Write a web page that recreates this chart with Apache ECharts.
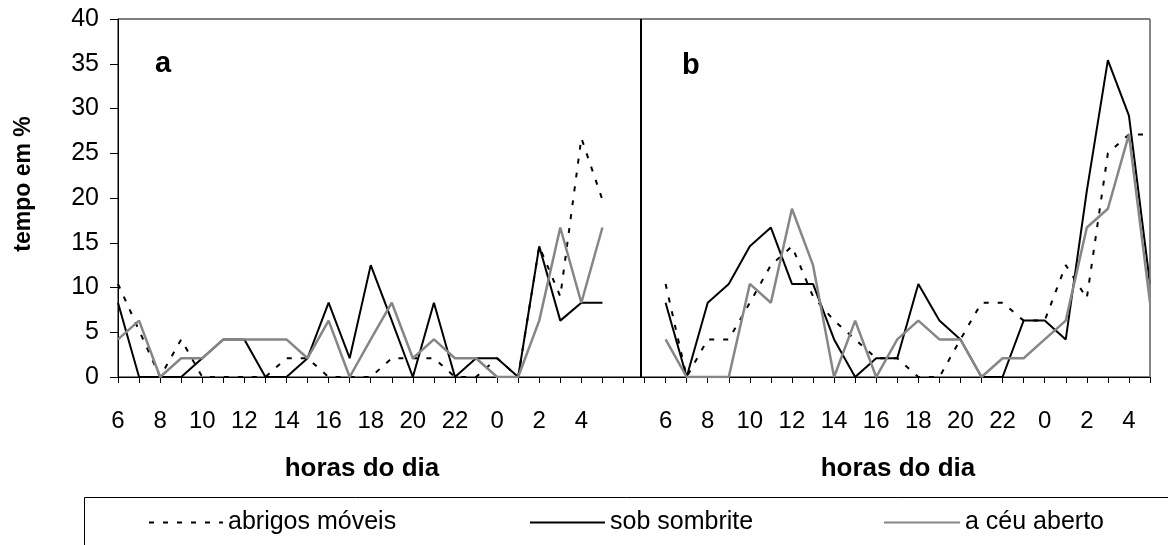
<!DOCTYPE html>
<html>
<head>
<meta charset="utf-8">
<title>tempo em % por hora do dia</title>
<script src="https://cdn.jsdelivr.net/npm/echarts@6/dist/echarts.min.js"></script>
<style>
  html, body { margin: 0; padding: 0; background: #fff; }
  #chart { width: 1168px; height: 545px; }
</style>
</head>
<body>
<div id="chart"></div>
<script>
// Hours of the day, starting at 6 h and wrapping past midnight
const hourLabels = ['6','7','8','9','10','11','12','13','14','15','16','17',
                    '18','19','20','21','22','23','0','1','2','3','4','5'];

// Panel a
const abrigosA   = [10.4, 5.2, 0, 4.2, 0, 0, 0, 0, 2.1, 2.1, 0, 0,
                    0, 2.1, 2.1, 2.1, 0, 0, 2.1, 0, 14.6, 9.0, 26.7, 19.8];
const sombriteA  = [8.3, 0, 0, 0, 2.1, 4.2, 4.2, 0, 0, 2.1, 8.3, 2.1,
                    12.5, 6.3, 0, 8.3, 0, 2.1, 2.1, 0, 14.6, 6.3, 8.3, 8.3];
const ceuA       = [4.2, 6.3, 0, 2.1, 2.1, 4.2, 4.2, 4.2, 4.2, 2.1, 6.3, 0,
                    4.2, 8.3, 2.1, 4.2, 2.1, 2.1, 0, 0, 6.3, 16.7, 8.3, 16.7];

// Panel b
const abrigosB   = [10.4, 0, 4.2, 4.2, 8.3, 12.5, 14.6, 9.0, 6.3, 4.2, 2.1, 2.1,
                    0, 0, 4.2, 8.3, 8.3, 6.3, 6.3, 12.5, 8.8, 25.0, 27.1, 27.1];
const sombriteB  = [8.3, 0, 8.3, 10.4, 14.6, 16.7, 10.4, 10.4, 4.2, 0, 2.1, 2.1,
                    10.4, 6.3, 4.2, 0, 0, 6.3, 6.3, 4.2, 20.8, 35.4, 29.2, 10.4];
const ceuB       = [4.2, 0, 0, 0, 10.4, 8.3, 18.8, 12.5, 0, 6.3, 0, 4.2,
                    6.3, 4.2, 4.2, 0, 2.1, 2.1, 4.2, 6.3, 16.7, 18.8, 27.1, 8.3];

const seriesNames = ['abrigos móveis', 'sob sombrite', 'a céu aberto'];
const panelNames = ['a', 'b'];
const axisTitle = 'horas do dia';
const valueTitle = 'tempo em %';

// Both panels share one x scale: slots 0-23 hold panel a, 24-25 are the gap,
// 26-49 hold panel b.
const PANEL_B_START = 26;
const LAST_SLOT = PANEL_B_START + hourLabels.length - 1;
const DIVIDER_SLOT = 24.83;

function joinPanels(a, b) {
  const out = a.map((v, i) => [i, v]);
  out.push([24, null]);
  b.forEach((v, i) => out.push([PANEL_B_START + i, v]));
  return out;
}

function slotLabel(v) {
  if (v < hourLabels.length) return v % 2 === 0 ? hourLabels[v] : '';
  const j = v - PANEL_B_START;
  if (j >= 0 && j < hourLabels.length && j % 2 === 0) return hourLabels[j];
  return '';
}

const FONT = '"Liberation Sans", Arial, sans-serif';
const GRAY = '#868686';

const chart = echarts.init(document.getElementById('chart'), null, { renderer: 'canvas' });

const lineStyles = [
  { color: '#000', width: 2, type: [5, 9] },
  { color: '#000', width: 2, type: 'solid' },
  { color: GRAY, width: 2.5, type: 'solid' }
];
const dataSets = [
  joinPanels(abrigosA, abrigosB),
  joinPanels(sombriteA, sombriteB),
  joinPanels(ceuA, ceuB)
];

const series = seriesNames.map((name, i) => ({
  name: name,
  type: 'line',
  data: dataSets[i],
  symbol: 'none',
  connectNulls: false,
  color: lineStyles[i].color,
  lineStyle: lineStyles[i],
  z: 2 + i
}));

// Panel divider and the grey right-hand frame line
series[0].markLine = {
  silent: true,
  symbol: ['none', 'none'],
  label: { show: false },
  animation: false,
  data: [
    { xAxis: DIVIDER_SLOT, lineStyle: { color: '#000', width: 2, type: 'solid' } },
    { xAxis: LAST_SLOT, lineStyle: { color: '#888', width: 1.5, type: 'solid' } }
  ]
};

const legendSlots = [
  { left: 148, itemWidth: 74 },
  { left: 529, itemWidth: 75 },
  { left: 883, itemWidth: 76 }
];

const option = {
  animation: false,
  backgroundColor: '#fff',
  textStyle: { fontFamily: FONT, color: '#000' },
  grid: {
    left: 118, right: 18, top: 19, bottom: 168,
    show: true, borderColor: '#000', borderWidth: 1,
    containLabel: false
  },
  xAxis: {
    type: 'value',
    min: 0, max: LAST_SLOT, interval: 1,
    splitLine: { show: false },
    axisLine: { show: true, lineStyle: { color: '#000', width: 1 } },
    axisTick: { show: true, length: 6, lineStyle: { color: '#000', width: 1 } },
    axisLabel: {
      formatter: slotLabel,
      fontSize: 24, color: '#000', fontFamily: FONT, margin: 32,
      showMinLabel: true, showMaxLabel: true
    }
  },
  yAxis: {
    type: 'value',
    min: 0, max: 40, interval: 5,
    splitLine: { show: false },
    axisLine: { show: true, lineStyle: { color: '#000', width: 1 } },
    axisTick: { show: true, length: 8, lineStyle: { color: '#000', width: 1 } },
    axisLabel: { fontSize: 25, color: '#000', fontFamily: FONT, margin: 19 }
  },
  legend: seriesNames.map((name, i) => ({
    data: [name],
    left: legendSlots[i].left,
    top: 510,
    padding: 0,
    itemWidth: legendSlots[i].itemWidth,
    itemHeight: 24,
    selectedMode: false,
    itemStyle: { opacity: 0, borderWidth: 0 },
    textStyle: { fontSize: 25, color: '#000', fontFamily: FONT }
  })),
  graphic: [
    { type: 'text', x: 155, y: 64, style: { text: panelNames[0], font: 'bold 29px ' + FONT, fill: '#000', verticalAlign: 'middle' } },
    { type: 'text', x: 682, y: 66, style: { text: panelNames[1], font: 'bold 29px ' + FONT, fill: '#000', verticalAlign: 'middle' } },
    { type: 'text', x: 24, y: 184, rotation: Math.PI / 2,
      style: { text: valueTitle, font: 'bold 23px ' + FONT, fill: '#000', align: 'center', verticalAlign: 'middle' } },
    { type: 'text', x: 362, y: 468.5,
      style: { text: axisTitle, font: 'bold 26px ' + FONT, fill: '#000', align: 'center', verticalAlign: 'middle' } },
    { type: 'text', x: 898, y: 468.5,
      style: { text: axisTitle, font: 'bold 26px ' + FONT, fill: '#000', align: 'center', verticalAlign: 'middle' } },
    { type: 'rect', shape: { x: 84.5, y: 497.5, width: 1200, height: 100 },
      style: { fill: 'none', stroke: '#000', lineWidth: 1 }, silent: true }
  ],
  series: series
};

chart.setOption(option);
</script>
</body>
</html>
